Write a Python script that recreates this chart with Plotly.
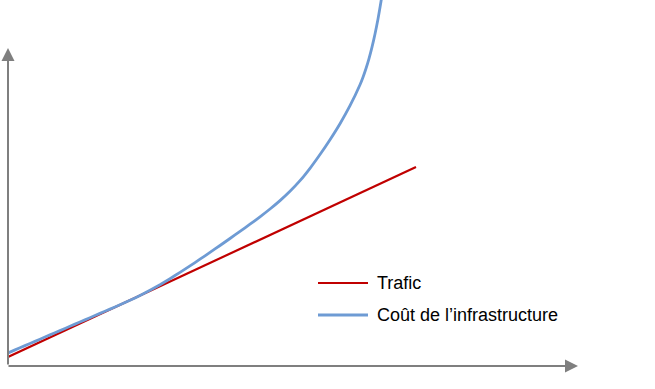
import plotly.graph_objects as go

# Data (time units, value units)
trafic_t = [0, 408]
trafic_v = [9, 199]

cout_t = [0, 2, 12, 22, 32, 42, 52, 62, 72, 82, 92, 102, 112, 122, 132, 142, 152, 162,
          172, 182, 192, 202, 212, 222, 232, 242, 252, 262, 272, 282, 292, 302, 312,
          322, 332, 342, 352, 355, 358, 361, 364, 367, 370, 373, 376]
cout_v = [13, 13.9, 18.2, 22.5, 26.8, 31.1, 35.4, 39.7, 44.0, 48.3, 52.6, 56.9, 61.2,
          65.7, 70.5, 75.7, 81.3, 87.3, 93.6, 100.1, 106.8, 113.6, 120.5, 127.5, 134.6,
          141.8, 149.2, 157.0, 165.4, 174.7, 185.3, 197.7, 211.5, 226.3, 242.3, 260.3,
          281.3, 288.8, 297.5, 307.4, 318.8, 332.0, 347.0, 364.4, 383.9]

series_names = ["Trafic", "Coût de l’infrastructure"]
x_label = "Temps"

RED = "#C00000"
BLUE = "#6E9BD4"
GRAY = "#7F7F7F"
FONT = "Liberation Sans, Arial, sans-serif"

fig = go.Figure()
fig.add_trace(go.Scatter(x=trafic_t, y=trafic_v, mode="lines", name=series_names[0],
                         line=dict(color=RED, width=2.2), showlegend=False, hoverinfo="skip"))
fig.add_trace(go.Scatter(x=cout_t, y=cout_v, mode="lines", name=series_names[1],
                         line=dict(color=BLUE, width=2.8, shape="spline", smoothing=0.5),
                         showlegend=False, hoverinfo="skip"))

annotations = [
    # y axis arrow
    dict(x=0, y=318, ax=0, ay=0, xref="x", yref="y", axref="x", ayref="y",
         showarrow=True, arrowhead=2, arrowsize=1.3, arrowwidth=2, arrowcolor=GRAY,
         standoff=0, startstandoff=0, text=""),
    # x axis arrow
    dict(x=570, y=0, ax=-1, ay=0, xref="x", yref="y", axref="x", ayref="y",
         showarrow=True, arrowhead=2, arrowsize=1.3, arrowwidth=2, arrowcolor=GRAY,
         standoff=0, startstandoff=0, text=""),
    dict(x=578, y=0, xref="x", yref="y", text=x_label, showarrow=False,
         xanchor="left", yanchor="middle", font=dict(family=FONT, size=18, color=GRAY)),
    dict(x=367, y=83, xref="x", yref="y", text=series_names[0], showarrow=False,
         xanchor="left", yanchor="middle", font=dict(family=FONT, size=18, color="#000000")),
    dict(x=367, y=51, xref="x", yref="y", text=series_names[1], showarrow=False,
         xanchor="left", yanchor="middle", font=dict(family=FONT, size=18, color="#000000")),
]

shapes = [
    dict(type="line", x0=310, x1=360, y0=83, y1=83, xref="x", yref="y",
         line=dict(color=RED, width=2.2)),
    dict(type="line", x0=310, x1=360, y0=51, y1=51, xref="x", yref="y",
         line=dict(color=BLUE, width=2.8)),
]

fig.update_layout(
    width=655, height=389,
    margin=dict(l=8, r=77, t=0, b=23, pad=0),
    paper_bgcolor="white", plot_bgcolor="white",
    xaxis=dict(range=[0, 570], visible=False, fixedrange=True),
    yaxis=dict(range=[0, 366], visible=False, fixedrange=True),
    annotations=annotations,
    shapes=shapes,
    showlegend=False,
)

fig.write_html("out.html", config={"displayModeBar": False})
